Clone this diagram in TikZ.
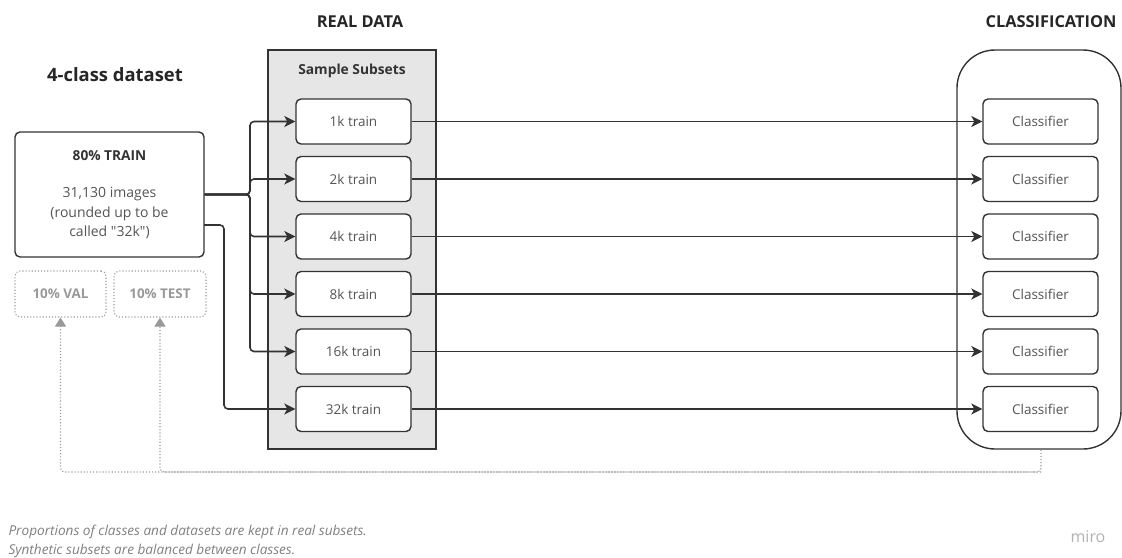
\documentclass[tikz,border=0pt]{standalone}
\usepackage{fontspec}
\setmainfont{Open Sans}
\usetikzlibrary{arrows.meta}
\definecolor{linec}{HTML}{333333}
\definecolor{txt}{HTML}{555555}
\definecolor{panel}{HTML}{E6E6E6}
\definecolor{faint}{HTML}{999999}
\definecolor{note}{HTML}{808080}
\tikzset{
  box/.style={draw=linec, line width=1.4pt, fill=white, rounded corners=5pt,
    minimum width=115pt, minimum height=45pt, inner sep=0pt, text=txt, font=\fontsize{13.5}{16}\selectfont},
  ghost/.style={draw=faint, dotted, line width=1.1pt, rounded corners=5pt,
    minimum height=46pt, inner sep=0pt, text=faint, font=\bfseries\fontsize{13.4}{16}\selectfont},
  arr/.style={draw=linec, line width=1.6pt, -{Stealth[length=11pt,width=11pt,inset=3pt]}},
  dotarr/.style={draw=faint, dotted, line width=1.1pt, rounded corners=4pt, -{Triangle[length=9pt,width=11pt]}},
  heading/.style={font=\bfseries\fontsize{16.4}{19}\selectfont, text=black!85},
  notetext/.style={anchor=west, text=note, font=\itshape\fontsize{13.6}{16}\selectfont},
}
\begin{document}
\begin{tikzpicture}[x=1pt, y=-1pt]
\useasboundingbox (0,0) rectangle (1122,557);

% headings
\node[heading] (hreal) at (360,22) {REAL DATA};
\node[heading] (hcls) at (1051,22) {CLASSIFICATION};
\node[font=\bfseries\fontsize{18.4}{22}\selectfont, text=black!85] (hdata) at (115,75) {4-class dataset};

% grey panel holding the sampled subsets
\node[draw=linec, line width=1.4pt, fill=panel, minimum width=168pt, minimum height=399pt, inner sep=0pt]
  (panel) at (352,249.5) {};
\node[font=\bfseries\fontsize{13.8}{16}\selectfont, text=black!80] (psub) at (352,71) {Sample Subsets};

% classification container
\node[draw=linec, line width=1.4pt, rounded corners=38pt, minimum width=164pt, minimum height=399pt, inner sep=0pt]
  (clsbox) at (1039,249.5) {};

% training split
\node[draw=linec, line width=1.4pt, fill=white, rounded corners=5pt, minimum width=189pt, minimum height=125pt,
  inner sep=0pt] (train) at (109.5,194.5) {};
\node[font=\bfseries\fontsize{13.7}{16}\selectfont, text=black!80] (trainhd) at (109.5,156) {80\% TRAIN};
\node[text=txt, align=center, font=\fontsize{14}{19.5}\selectfont] (traintx) at (109.5,213)
  {31,130 images\\(rounded up to be\\called \textquotedbl 32k\textquotedbl)};

% held-out splits
\node[ghost, minimum width=91pt] (val) at (60.5,294) {10\% VAL};
\node[ghost, minimum width=92pt] (test) at (160,294) {10\% TEST};

% subsets and classifiers
\foreach \i/\lbl/\y in {1/1k/121.5, 2/2k/179, 3/4k/236.5, 4/8k/294, 5/16k/351.5, 6/32k/409} {
  \node[box] (t\i) at (353.5,\y) {\lbl\ train};
  \node[box] (c\i) at (1040.5,\y) {Classifier};
  \draw[arr] (t\i.east) -- (c\i.west);
}

% fan-out from the training split
\coordinate (fork) at (250,194.5);
\coordinate (out2) at (204,225);
\coordinate (bend2) at (224,225);
\foreach \i in {1,...,5} {
  \draw[arr, rounded corners=4pt] (train.east) -- (fork) |- (t\i.west);
}
\draw[arr, rounded corners=4pt] (out2) -- (bend2) |- (t6.west);

% evaluation feedback to the held-out splits
\coordinate (loop) at (1041,472);
\draw[dotarr] (clsbox.south -| loop) -- (loop) -| (val.south);
\draw[dotarr] (loop) -| (test.south);

% notes
\node[notetext] (n1) at (5,532) {Proportions of classes and datasets are kept in real subsets.};
\node[notetext] (n2) at (5,551) {Synthetic subsets are balanced between classes.};
\node[text=black!30, font=\fontsize{16}{18}\selectfont] (miro) at (1088,537) {miro};
\end{tikzpicture}
\end{document}
